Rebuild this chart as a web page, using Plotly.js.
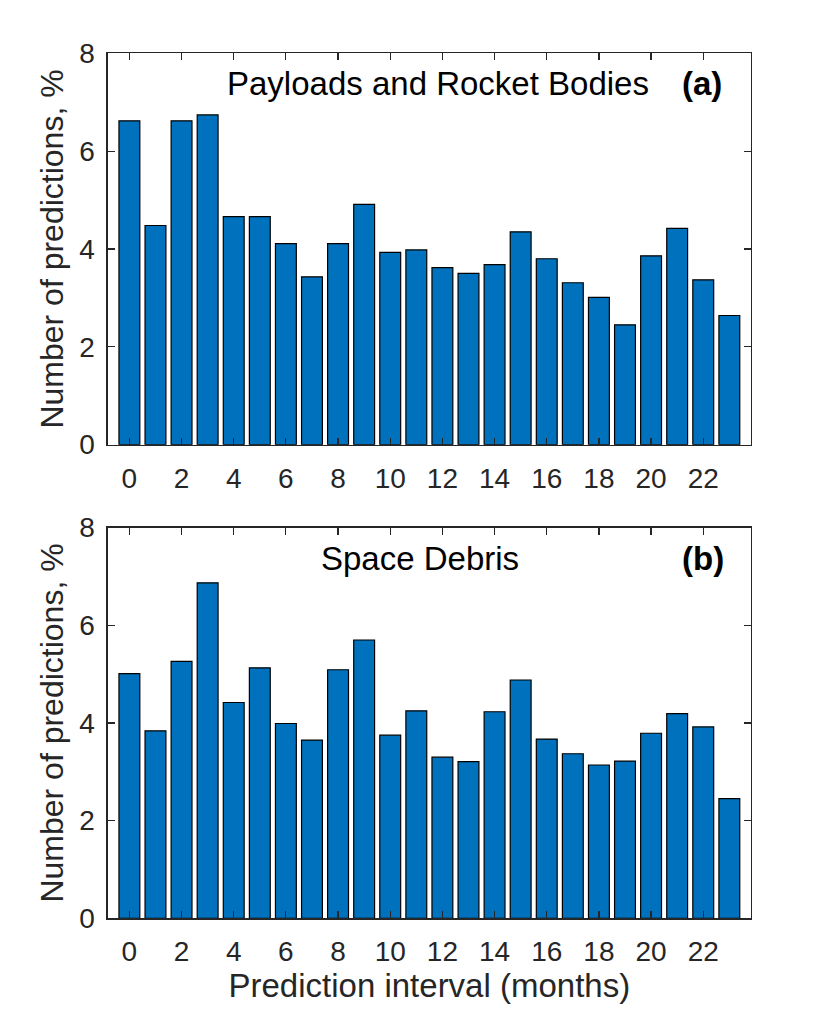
<!DOCTYPE html>
<html>
<head>
<meta charset="utf-8">
<script src="https://cdn.plot.ly/plotly-3.0.1.min.js"></script>
<style>html,body{margin:0;padding:0;background:#fff;}#chart{width:830px;height:1031px;}</style>
</head>
<body>
<div id="chart"></div>
<script>
const months = [0,1,2,3,4,5,6,7,8,9,10,11,12,13,14,15,16,17,18,19,20,21,22,23];
const payloadsRocketBodies = [6.62,4.48,6.62,6.74,4.66,4.66,4.11,3.43,4.11,4.91,3.93,3.98,3.62,3.50,3.68,4.35,3.80,3.31,3.01,2.45,3.86,4.42,3.37,2.64];
const spaceDebris = [5.01,3.84,5.26,6.87,4.42,5.13,3.99,3.65,5.09,5.70,3.75,4.25,3.30,3.21,4.23,4.88,3.67,3.37,3.14,3.22,3.79,4.19,3.92,2.45];
const xTicks = [0,2,4,6,8,10,12,14,16,18,20,22];
const yTicks = [0,2,4,6,8];

const axisColor = '#262626';
const font = 'Liberation Sans, Arial, Helvetica, sans-serif';

function bar(y, xa, ya){
  return {type:'bar', x: months, y: y, xaxis: xa, yaxis: ya, width: 0.8,
    marker:{color:'#0072BD', line:{color:'#000000', width:1.2}}, hoverinfo:'x+y'};
}

function xaxis(anchor, showTitle){
  const a = {domain:[0.1298,0.9048], range:[-0.83,23.83], anchor: anchor,
    tickvals: xTicks, ticktext: xTicks.map(String), ticks:'inside', ticklen:7, tickwidth:1.2, tickcolor:axisColor,
    showline:true, linecolor:axisColor, linewidth:1.3, mirror:'ticks', showgrid:false, zeroline:false,
    tickfont:{family:font, size:28, color:axisColor}, ticklabelstandoff: 8};
  if(showTitle) a.title = {text:'Prediction interval (months)', font:{family:font, size:33, color:axisColor}, standoff: 4};
  return a;
}
function yaxis(domain, anchor){
  return {domain: domain, range:[0,8], anchor: anchor,
    tickvals: yTicks, ticktext: yTicks.map(String), ticks:'inside', ticklen:7, tickwidth:1.2, tickcolor:axisColor,
    showline:true, linecolor:axisColor, linewidth:1.3, mirror:'ticks', showgrid:false, zeroline:false,
    tickfont:{family:font, size:28, color:axisColor}, ticklabelstandoff: 6,
    title:{text:'Number of predictions, %', font:{family:font, size:32, color:axisColor}, standoff: 6}};
}

const layout = {
  width:830, height:1031, margin:{l:0,r:0,t:0,b:0}, paper_bgcolor:'#fff', plot_bgcolor:'#fff',
  showlegend:false, bargap:0.2,
  xaxis: xaxis('y', false),
  yaxis: yaxis([0.5687,0.9483], 'x'),
  xaxis2: xaxis('y2', true),
  yaxis2: yaxis([0.1093,0.4882], 'x2'),
  annotations:[
    {text:'Payloads and Rocket Bodies', xref:'paper', yref:'paper', x:438/830, y:1-83/1031, xanchor:'center', yanchor:'middle', showarrow:false, font:{family:font, size:33, color:'#000'}},
    {text:'<b>(a)</b>', xref:'paper', yref:'paper', x:702/830, y:1-83/1031, xanchor:'center', yanchor:'middle', showarrow:false, font:{family:font, size:33, color:'#000'}},
    {text:'Space Debris', xref:'paper', yref:'paper', x:419.5/830, y:1-558/1031, xanchor:'center', yanchor:'middle', showarrow:false, font:{family:font, size:33, color:'#000'}},
    {text:'<b>(b)</b>', xref:'paper', yref:'paper', x:703/830, y:1-558/1031, xanchor:'center', yanchor:'middle', showarrow:false, font:{family:font, size:33, color:'#000'}}
  ]
};

Plotly.newPlot('chart', [bar(payloadsRocketBodies,'x','y'), bar(spaceDebris,'x2','y2')], layout, {staticPlot:true});
</script>
</body>
</html>
